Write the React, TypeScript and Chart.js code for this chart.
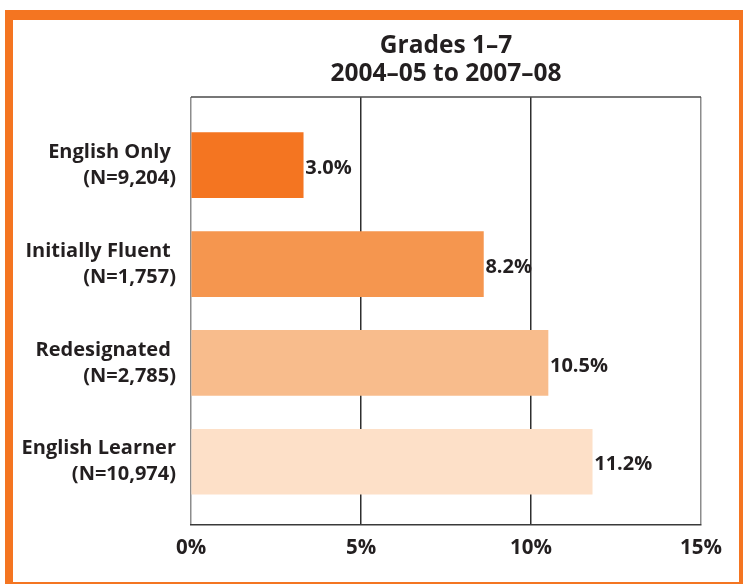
import React, { useEffect, useRef } from "react";
import { Chart, registerables } from "chart.js";

Chart.register(...registerables);

const categories: string[][] = [
  ["English Only ", "(N=9,204)"],
  ["Initially Fluent ", "(N=1,757)"],
  ["Redesignated ", "(N=2,785)"],
  ["English Learner", "(N=10,974)"],
];
const barValues = [3.3, 8.6, 10.5, 11.8];
const valueLabels = ["3.0%", "8.2%", "10.5%", "11.2%"];
const barColors = ["#f47521", "#f5964f", "#f8bc8c", "#fde0c8"];
const xTickValues = [0, 5, 10, 15];
const titleLines = ["Grades 1\u20137", "2004\u201305 to 2007\u201308"];

const TEXT = "#231f20";
const FONT = '"Open Sans", "DejaVu Sans", sans-serif';

export default function App() {
  const canvasRef = useRef<HTMLCanvasElement | null>(null);

  useEffect(() => {
    if (!canvasRef.current) return;
    const frame = {
      id: "frameTop",
      afterDraw(chart: any) {
        const { ctx, chartArea } = chart;
        ctx.save();
        ctx.strokeStyle = "#4a4a4a";
        ctx.lineWidth = 1.5;
        ctx.beginPath();
        ctx.moveTo(chartArea.left, chartArea.top);
        ctx.lineTo(chartArea.right, chartArea.top);
        ctx.stroke();
        ctx.restore();
      },
    };
    const values = {
      id: "valueLabels",
      afterDatasetsDraw(chart: any) {
        const { ctx } = chart;
        const meta = chart.getDatasetMeta(0);
        ctx.save();
        ctx.font = `bold 20px ${FONT}`;
        ctx.fillStyle = TEXT;
        ctx.textAlign = "left";
        ctx.textBaseline = "middle";
        meta.data.forEach((bar: any, i: number) => {
          ctx.fillText(valueLabels[i], bar.x + 2, bar.y + 3);
        });
        ctx.restore();
      },
    };
    const chart = new Chart(canvasRef.current, {
      type: "bar",
      data: {
        datasets: [
          {
            data: barValues.map((v, i) => ({ x: v, y: i })),
            backgroundColor: barColors,
            borderWidth: 0,
            barThickness: 65,
          } as any,
        ],
      },
      options: {
        indexAxis: "y",
        animation: false,
        responsive: false,
        layout: { padding: { top: 9, left: 0, right: 42, bottom: 0 } },
        plugins: {
          legend: { display: false },
          tooltip: { enabled: false },
          title: {
            display: true,
            text: titleLines,
            color: TEXT,
            font: { family: FONT, size: 24.5, weight: "bold", lineHeight: 28 / 24.5 },
            padding: { top: 23, bottom: 9 },
            fullSize: false,
          },
        },
        scales: {
          x: {
            type: "linear",
            min: 0,
            max: 15,
            afterBuildTicks: (s: any) => {
              s.ticks = xTickValues.map((v) => ({ value: v }));
            },
            afterFit: (s: any) => {
              s.height = 59;
            },
            ticks: {
              callback: (v: any) => `${v}%`,
              color: TEXT,
              font: { family: FONT, size: 20.5, weight: "bold" },
              padding: 11,
              autoSkip: false,
              maxRotation: 0,
            },
            grid: {
              drawTicks: false,
              lineWidth: 1.5,
              color: (ctx: any) =>
                ctx.index === 0 || ctx.index === xTickValues.length - 1 ? "#8c8c8c" : "#2e2e2e",
            },
            border: { display: true, color: "#3a3a3a", width: 1.5 },
          },
          y: {
            type: "linear",
            reverse: true,
            offset: false,
            min: -0.69,
            max: 3.64,
            afterBuildTicks: (s: any) => {
              s.ticks = categories.map((_, i) => ({ value: i }));
            },
            afterFit: (s: any) => {
              s.width = 191;
            },
            ticks: {
              callback: (v: any) => categories[v as number],
              color: TEXT,
              font: { family: FONT, size: 20, weight: "bold", lineHeight: 1.3 },
              padding: 15,
              autoSkip: false,
            },
            grid: { display: false, offset: false, drawTicks: false },
            border: { display: false },
          },
        },
      } as any,
      plugins: [frame, values],
    });
    return () => chart.destroy();
  }, []);

  return (
    <div
      style={{
        position: "absolute",
        left: 0,
        top: 0,
        width: 743,
        height: 584,
        overflow: "hidden",
        background: "#ffffff",
      }}
    >
      <canvas
        ref={canvasRef}
        width={743}
        height={584}
        style={{ position: "absolute", left: 0, top: 0, width: 743, height: 584 }}
      />
      <div
        style={{
          position: "absolute",
          left: 5,
          top: 10,
          width: 742,
          height: 580,
          boxSizing: "border-box",
          borderStyle: "solid",
          borderColor: "#f47521",
          borderWidth: "10px 8px 8px 8px",
          pointerEvents: "none",
        }}
      />
    </div>
  );
}
